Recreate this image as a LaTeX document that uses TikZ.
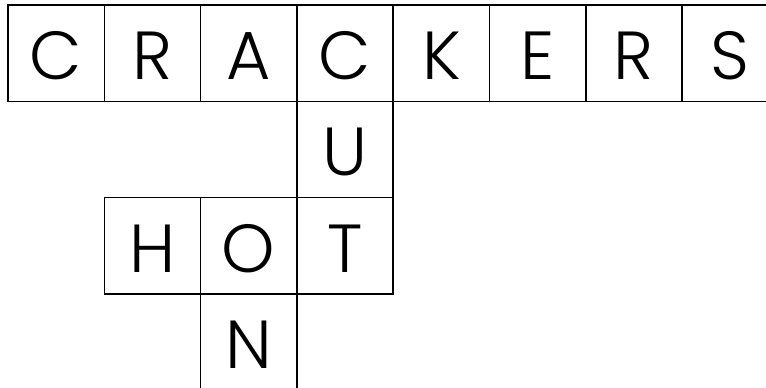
\documentclass[tikz,border=0pt]{standalone}
\usepackage{fontspec}
\setmainfont{Poppins}[UprightFont=* Light]
\begin{document}
\begin{tikzpicture}[x=1pt,y=-1pt,
  cell/.style={draw=black,line width=1.6pt,minimum size=96.3pt,inner sep=0pt,
    font=\fontsize{68}{68}\selectfont,text height=53pt,text depth=0pt}]
\useasboundingbox (0,0) rectangle (766,388);
\def\w{96.3}
\foreach \L [count=\i from 0] in {C,R,A,C,K,E,R,S}
  \node[cell] (r\i) at ({8+\w*\i+\w/2},{5+\w/2}) {\L};
\node[cell] (u) at ({8+\w*3+\w/2},{5+\w*1.5}) {U};
\node[cell] (h) at ({8+\w*1+\w/2},{5+\w*2.5}) {H};
\node[cell] (o) at ({8+\w*2+\w/2},{5+\w*2.5}) {O};
\node[cell] (t) at ({8+\w*3+\w/2},{5+\w*2.5}) {T};
\node[cell] (n) at ({8+\w*2+\w/2},{5+\w*3.5}) {N};
\end{tikzpicture}
\end{document}
